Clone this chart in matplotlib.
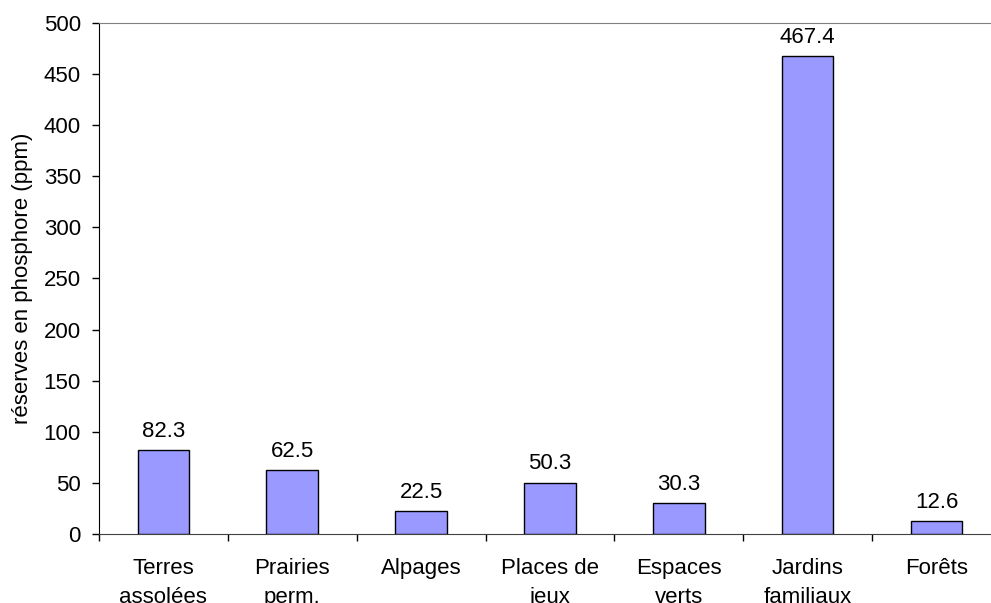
import matplotlib.pyplot as plt
import numpy as np

plt.rcParams["font.family"] = ["Liberation Sans", "DejaVu Sans"]

categories = ["Terres\nassolées", "Prairies\nperm.", "Alpages", "Places de\njeux",
              "Espaces\nverts", "Jardins\nfamiliaux", "Forêts"]
values = [82.3, 62.5, 22.5, 50.3, 30.3, 467.4, 12.6]
y_ticks = list(range(0, 501, 50))

fig = plt.figure(figsize=(9.91, 6.03), dpi=100)
ax = fig.add_axes([0.0999, 0.1144, 0.9101, 0.8475])

x = np.arange(len(categories))
ax.bar(x, values, width=0.4, color="#9999FF", edgecolor="black", linewidth=1, zorder=3)

for xi, v in zip(x, values):
    ax.annotate(f"{v:.1f}", (xi, v), xytext=(0, 6), textcoords="offset points",
                ha="center", va="bottom", fontsize=16)

ax.set_xlim(-0.5, len(categories) - 0.5)
ax.set_ylim(0, 500)
ax.set_yticks(y_ticks)
ax.tick_params(axis="y", labelsize=16, length=5, width=1, direction="out", pad=8)

# category separators as ticks, labels centred under bars
ax.set_xticks(np.arange(len(categories) + 1) - 0.5)
ax.set_xticklabels([])
ax.set_xticks(x, minor=True)
ax.set_xticklabels(categories, minor=True, fontsize=16, linespacing=1.5)
ax.tick_params(axis="x", which="major", length=5, width=1, direction="out")
ax.tick_params(axis="x", which="minor", length=0, pad=17)

ax.set_ylabel("réserves en phosphore (ppm)", fontsize=16, labelpad=8)

ax.spines["top"].set_color("#808080")
ax.spines["right"].set_visible(False)
ax.spines["left"].set_color("black")
ax.spines["bottom"].set_color("#404040")

fig.savefig("out.png", dpi=100)
